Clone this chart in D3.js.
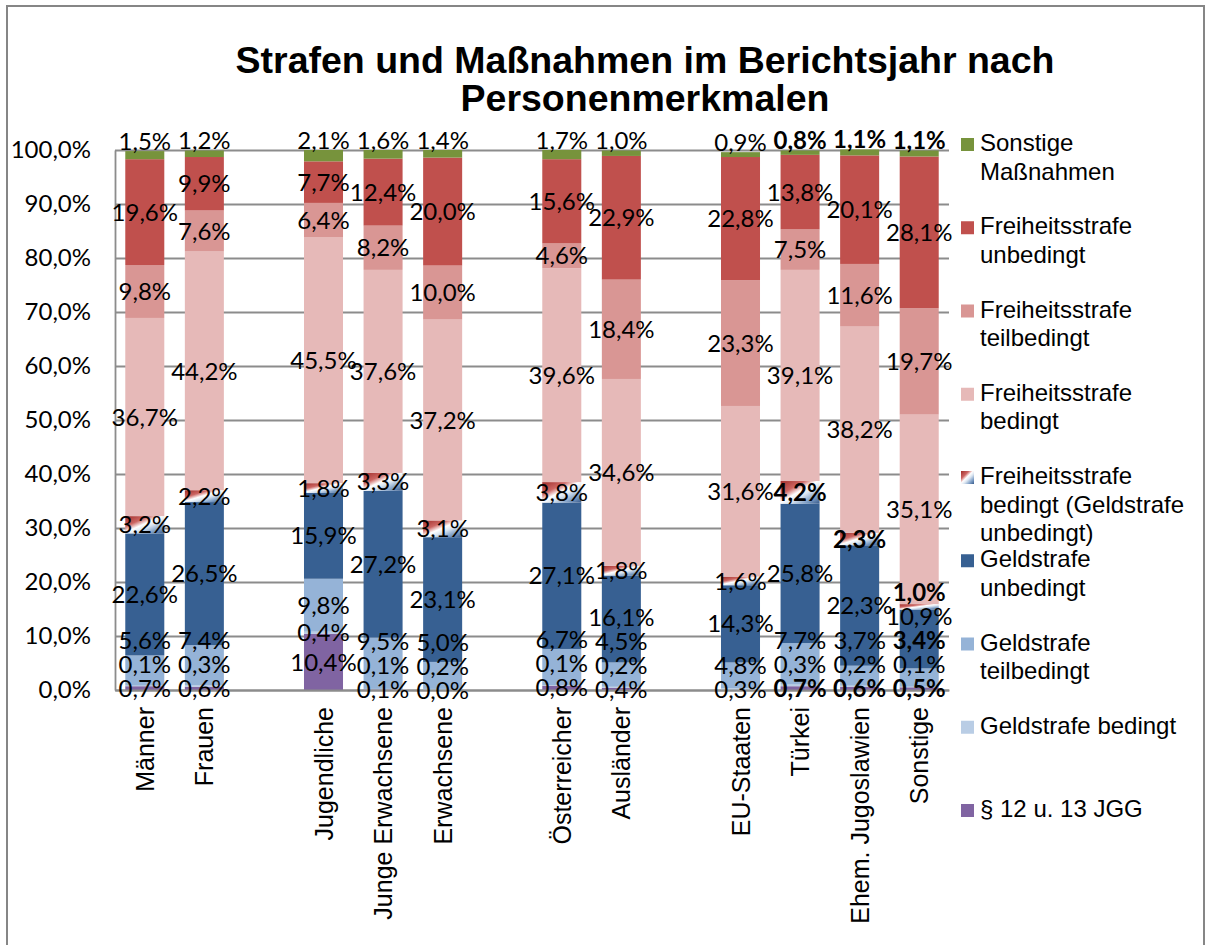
<!DOCTYPE html>
<html>
<head>
<meta charset="utf-8">
<script src="https://cdn.jsdelivr.net/npm/d3@7"></script>
<style>
  body { margin: 0; background: #fff; }
  svg { display: block; }
</style>
</head>
<body>
<div id="chart"></div>
<script>
// categories, blanks are the empty rows between the groups
const categories = ["Männer", "Frauen", "", "Jugendliche", "Junge Erwachsene", "Erwachsene", "",
  "Österreicher", "Ausländer", "", "EU-Staaten", "Türkei", "Ehem. Jugoslawien", "Sonstige"];

// values in %, one array per series (bottom of the stack first)
const jgg       = [0.7, 0.6, null, 10.4, 0.1, 0.0, null, 0.8, 0.4, null, null, 0.7, 0.6, 0.5];
const gsBed     = [0.1, 0.3, null, 0.4, 0.1, 0.2, null, 0.1, 0.2, null, 0.3, 0.3, 0.2, 0.1];
const gsTeil    = [5.6, 7.4, null, 9.8, 9.5, 5.0, null, 6.7, 4.5, null, 4.8, 7.7, 3.7, 3.4];
const gsUnbed   = [22.6, 26.5, null, 15.9, 27.2, 23.1, null, 27.1, 16.1, null, 14.3, 25.8, 22.3, 10.9];
const fsBedGs   = [3.2, 2.2, null, 1.8, 3.3, 3.1, null, 3.8, 1.8, null, 1.6, 4.2, 2.3, 1.0];
const fsBed     = [36.7, 44.2, null, 45.5, 37.6, 37.2, null, 39.6, 34.6, null, 31.6, 39.1, 38.2, 35.1];
const fsTeil    = [9.8, 7.6, null, 6.4, 8.2, 10.0, null, 4.6, 18.4, null, 23.3, 7.5, 11.6, 19.7];
const fsUnbed   = [19.6, 9.9, null, 7.7, 12.4, 20.0, null, 15.6, 22.9, null, 22.8, 13.8, 20.1, 28.1];
const sonstige  = [1.5, 1.2, null, 2.1, 1.6, 1.4, null, 1.7, 1.0, null, 0.9, 0.8, 1.1, 1.1];

const yTicks = [0, 10, 20, 30, 40, 50, 60, 70, 80, 90, 100];

// series: key, legend lines, colour
const series = [
  { key: "jgg",      values: jgg,      name: ["§ 12 u. 13 JGG"],                                color: "#8064A2" },
  { key: "gsBed",    values: gsBed,    name: ["Geldstrafe bedingt"],                            color: "#B9CDE5" },
  { key: "gsTeil",   values: gsTeil,   name: ["Geldstrafe", "teilbedingt"],                     color: "#95B3D7" },
  { key: "gsUnbed",  values: gsUnbed,  name: ["Geldstrafe", "unbedingt"],                       color: "#376092" },
  { key: "fsBedGs",  values: fsBedGs,  name: ["Freiheitsstrafe", "bedingt (Geldstrafe", "unbedingt)"], color: "url(#gradFs)" },
  { key: "fsBed",    values: fsBed,    name: ["Freiheitsstrafe", "bedingt"],                    color: "#E6B9B8" },
  { key: "fsTeil",   values: fsTeil,   name: ["Freiheitsstrafe", "teilbedingt"],                color: "#D99694" },
  { key: "fsUnbed",  values: fsUnbed,  name: ["Freiheitsstrafe", "unbedingt"],                  color: "#C0504D" },
  { key: "sonstige", values: sonstige, name: ["Sonstige", "Maßnahmen"],                         color: "#77933C" }
];

// labels that are bold in the original
const boldLabels = ["sonstige|Türkei", "fsBedGs|Türkei", "jgg|Türkei",
  "sonstige|Ehem. Jugoslawien", "fsBedGs|Ehem. Jugoslawien", "jgg|Ehem. Jugoslawien",
  "sonstige|Sonstige", "fsBedGs|Sonstige", "gsTeil|Sonstige", "jgg|Sonstige"];

const width = 1210, height = 945;
const de = d3.formatLocale({ decimal: ",", thousands: ".", grouping: [3], currency: ["", " €"] });
const fmt = de.format(".1f");

const svg = d3.select("#chart").append("svg")
  .attr("width", width)
  .attr("height", height);

// gradient for the "Freiheitsstrafe bedingt (Geldstrafe unbedingt)" series
const grad = svg.append("defs").append("linearGradient")
  .attr("id", "gradFs")
  .attr("x1", 0).attr("y1", 0).attr("x2", 1).attr("y2", 1);
[[0, "#A02E2B"], [0.3, "#CC6562"], [0.47, "#FFFFFF"], [0.6, "#DCE6F1"], [0.8, "#7F9FC6"], [1, "#36598A"]]
  .forEach(function(s) {
    grad.append("stop").attr("offset", s[0]).attr("stop-color", s[1]);
  });

// chart border
svg.append("rect")
  .attr("x", 7).attr("y", 6)
  .attr("width", 1197).attr("height", 960)
  .attr("fill", "none")
  .attr("stroke", "#868686")
  .attr("stroke-width", 2);

// title
svg.append("text")
  .attr("x", 645).attr("y", 73)
  .attr("text-anchor", "middle")
  .style("font-family", "'Liberation Sans', Arial, sans-serif")
  .style("font-weight", "bold")
  .style("font-size", "37.5px")
  .text("Strafen und Maßnahmen im Berichtsjahr nach");
svg.append("text")
  .attr("x", 645).attr("y", 111)
  .attr("text-anchor", "middle")
  .style("font-family", "'Liberation Sans', Arial, sans-serif")
  .style("font-weight", "bold")
  .style("font-size", "37.5px")
  .text("Personenmerkmalen");

const x = d3.scaleBand()
  .domain(d3.range(categories.length))
  .range([115, 949])
  .paddingInner(0.345)
  .paddingOuter(0.1725);

const y = d3.scaleLinear()
  .domain([0, 100])
  .range([690, 150]);

// gridlines
svg.append("g")
  .attr("transform", "translate(115,0)")
  .call(d3.axisLeft(y).tickValues(yTicks).tickSize(-834).tickFormat(""))
  .call(function(g) { g.select(".domain").remove(); })
  .selectAll("line")
  .attr("stroke", "#8C8C8C")
  .attr("stroke-width", 1.8);

// y axis
const yAxis = svg.append("g")
  .attr("transform", "translate(115,0)")
  .call(d3.axisLeft(y).tickValues(yTicks).tickSize(0).tickPadding(24)
    .tickFormat(function(d) { return fmt(d) + "%"; }));
yAxis.select(".domain").attr("stroke", "#8C8C8C").attr("stroke-width", 1.8);
yAxis.selectAll("text")
  .style("font-family", "Lato, 'Open Sans', sans-serif")
  .style("font-size", "24px")
  .attr("fill", "#000");

// stack
const rows = categories.map(function(c, i) {
  const row = { idx: i, cat: c };
  series.forEach(function(s) { row[s.key] = s.values[i] == null ? 0 : s.values[i]; });
  return row;
});
const stacked = d3.stack().keys(series.map(function(s) { return s.key; }))(rows);

const layers = svg.append("g").selectAll("g")
  .data(stacked)
  .enter()
  .append("g")
  .attr("fill", function(d, i) { return series[i].color; });

layers.selectAll("rect")
  .data(function(d, i) {
    return d.filter(function(p) { return series[i].values[p.data.idx] != null; });
  })
  .enter()
  .append("rect")
  .attr("x", function(d) { return x(d.data.idx); })
  .attr("width", x.bandwidth())
  .attr("y", function(d) { return y(d[1]); })
  .attr("height", function(d) { return y(d[0]) - y(d[1]); });

// x axis
const xAxis = svg.append("g")
  .attr("transform", "translate(0,690)")
  .call(d3.axisBottom(x).tickSize(0).tickSizeOuter(0)
    .tickFormat(function(i) { return categories[i]; }));
xAxis.select(".domain").attr("stroke", "#8C8C8C").attr("stroke-width", 1.8);
xAxis.selectAll("text")
  .attr("transform", "rotate(-90)")
  .attr("text-anchor", "end")
  .attr("x", -17)
  .attr("y", 0)
  .attr("dy", "0.36em")
  .attr("fill", "#000")
  .style("font-family", "'Liberation Sans', Arial, sans-serif")
  .style("font-size", "25px");

// data labels: centred in the segment, small ones pushed upwards so they don't overlap
const labels = [];
categories.forEach(function(c, ci) {
  if (c === "") return;
  let prev = Infinity;
  stacked.forEach(function(layer, si) {
    const v = series[si].values[ci];
    if (v == null) return;
    const p = layer[ci];
    let cy;
    if (si === stacked.length - 1) {
      cy = y(p[1]) - 10;
    } else {
      cy = y((p[0] + p[1]) / 2);
    }
    cy = Math.min(cy, prev - 24);
    prev = cy;
    labels.push({
      x: x(ci) + x.bandwidth() / 2,
      y: cy,
      text: fmt(v) + "%",
      bold: boldLabels.indexOf(series[si].key + "|" + c) >= 0
    });
  });
});

svg.append("g").selectAll("text")
  .data(labels)
  .enter()
  .append("text")
  .attr("x", function(d) { return d.x; })
  .attr("y", function(d) { return d.y; })
  .attr("dy", "0.36em")
  .attr("text-anchor", "middle")
  .style("font-family", "Lato, 'Open Sans', sans-serif")
  .style("font-size", "24px")
  .style("font-weight", function(d) { return d.bold ? "bold" : "normal"; })
  .text(function(d) { return d.text; });

// legend, top of the stack first
const legend = svg.append("g")
  .style("font-family", "'Liberation Sans', Arial, sans-serif")
  .style("font-size", "24px");

series.slice().reverse().forEach(function(s, i) {
  const base = 151 + i * 83.25;
  legend.append("rect")
    .attr("x", 961).attr("y", base - 13)
    .attr("width", 13).attr("height", 13)
    .attr("fill", s.color);
  s.name.forEach(function(line, li) {
    legend.append("text")
      .attr("x", 980)
      .attr("y", base + li * 28.5)
      .text(line);
  });
});
</script>
</body>
</html>
